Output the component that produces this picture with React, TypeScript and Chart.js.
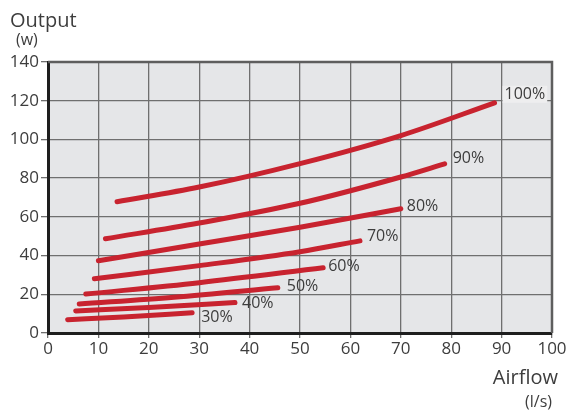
import { useEffect, useRef } from "react";
import { Chart, registerables } from "chart.js";

Chart.register(...registerables);

const FONT = "'Open Sans', 'DejaVu Sans', sans-serif";
const RED = "#c8232f";
const TEXT = "#3d3d3d";
const GRID = "#6f6f6f";

const xTicks = [0, 10, 20, 30, 40, 50, 60, 70, 80, 90, 100];
const yTicks = [0, 20, 40, 60, 80, 100, 120, 140];

const seriesLabels = ["30%", "40%", "50%", "60%", "70%", "80%", "90%", "100%"];

const airflow30 = [3.9, 15, 28.6];
const output30 = [6.9, 8.3, 10.5];
const airflow40 = [5.5, 20, 37.1];
const output40 = [11.4, 13.2, 15.7];
const airflow50 = [6.2, 25, 45.6];
const output50 = [15.0, 18.5, 23.4];
const airflow60 = [7.5, 30, 54.6];
const output60 = [20.1, 26.0, 33.7];
const airflow70 = [9.2, 30, 50, 61.9];
const output70 = [28.0, 34.8, 42.0, 47.6];
const airflow80 = [10.0, 30, 50, 70.0];
const output80 = [37.3, 46.0, 54.6, 64.2];
const airflow90 = [11.4, 30, 50, 70, 78.7];
const output90 = [48.7, 56.8, 67.0, 80.6, 87.4];
const airflow100 = [13.7, 30, 50, 70, 88.6];
const output100 = [67.8, 75.4, 87.5, 102.0, 118.9];

const airflows = [airflow30, airflow40, airflow50, airflow60, airflow70, airflow80, airflow90, airflow100];
const outputs = [output30, output40, output50, output60, output70, output80, output90, output100];

// label offsets from line end (px) – styling only
const labelDx = [9, 7, 9, 5, 7, 6, 8, 10];
const labelDy = [5, 1, -1, -1, -4, -2, -5, -8];

const decorPlugin = {
  id: "decor",
  beforeDraw(chart: any) {
    const { ctx, chartArea } = chart;
    const { left, top, right, bottom } = chartArea;
    ctx.save();
    ctx.fillStyle = "#e5e6e8";
    ctx.fillRect(left, top, right - left, bottom - top);
    ctx.restore();
  },
  beforeDatasetsDraw(chart: any) {
    const { ctx, chartArea } = chart;
    const { left, top, right, bottom } = chartArea;
    ctx.save();
    ctx.strokeStyle = "#5e5e5e";
    ctx.lineWidth = 2.5;
    ctx.beginPath();
    ctx.moveTo(left, top);
    ctx.lineTo(right, top);
    ctx.lineTo(right, bottom);
    ctx.stroke();
    ctx.restore();
  },
  afterDatasetsDraw(chart: any) {
    const { ctx } = chart;
    const xs = chart.scales.x;
    const ys = chart.scales.y;
    ctx.save();
    ctx.font = `16px ${FONT}`;
    ctx.textBaseline = "middle";
    ctx.textAlign = "left";
    seriesLabels.forEach((lab, i) => {
      const ax = airflows[i];
      const oy = outputs[i];
      const px = xs.getPixelForValue(ax[ax.length - 1]) + labelDx[i];
      const py = ys.getPixelForValue(oy[oy.length - 1]) + labelDy[i];
      if (i === seriesLabels.length - 1) {
        const w = ctx.measureText(lab).width;
        ctx.fillStyle = "#eeeeef";
        ctx.fillRect(px - 2, py - 9, w + 4, 17);
      }
      ctx.fillStyle = TEXT;
      ctx.fillText(lab, px, py);
    });
    ctx.restore();
  },
  afterDraw(chart: any) {
    const { ctx } = chart;
    ctx.save();
    ctx.fillStyle = TEXT;
    ctx.textBaseline = "middle";
    ctx.textAlign = "left";
    ctx.font = `20px ${FONT}`;
    ctx.fillText("Output", 10, 21);
    ctx.font = `16px ${FONT}`;
    ctx.fillText("(w)", 16, 40);
    ctx.textAlign = "right";
    ctx.font = `20px ${FONT}`;
    ctx.fillText("Airflow", 558, 378);
    ctx.font = `16px ${FONT}`;
    ctx.fillText("(l/s)", 552, 402);
    ctx.restore();
  },
};

export default function App() {
  const ref = useRef<HTMLCanvasElement | null>(null);

  useEffect(() => {
    if (!ref.current) return;
    const datasets = seriesLabels.map((lab, i) => ({
      label: lab,
      data: airflows[i].map((x, j) => ({ x, y: outputs[i][j] })),
      borderColor: RED,
      backgroundColor: RED,
      borderWidth: 5,
      borderCapStyle: "round" as const,
      pointRadius: 0,
      pointHoverRadius: 0,
      showLine: true,
      cubicInterpolationMode: "monotone" as const,
      fill: false,
    }));

    const chart = new Chart(ref.current, {
      type: "scatter",
      data: { datasets },
      options: {
        responsive: false,
        animation: false,
        events: [],
        layout: { padding: { top: 62, right: 23, left: 0, bottom: 0 } },
        plugins: {
          legend: { display: false },
          tooltip: { enabled: false },
          title: { display: false },
        },
        scales: {
          x: {
            type: "linear",
            min: 0,
            max: 100,
            afterFit: (s: any) => {
              s.height = 82;
            },
            afterBuildTicks: (s: any) => {
              s.ticks = xTicks.map((v) => ({ value: v }));
            },
            grid: { color: GRID, lineWidth: 1.3, tickLength: 5, drawTicks: true },
            border: { color: "#1e1e1e", width: 3 },
            ticks: {
              color: TEXT,
              font: { family: FONT, size: 17 },
              padding: 1,
              maxRotation: 0,
              autoSkip: false,
            },
          },
          y: {
            type: "linear",
            min: 0,
            max: 140,
            afterFit: (s: any) => {
              s.width = 48;
            },
            afterBuildTicks: (s: any) => {
              s.ticks = yTicks.map((v) => ({ value: v }));
            },
            grid: { color: GRID, lineWidth: 1.3, tickLength: 7, drawTicks: true },
            border: { color: "#1e1e1e", width: 3 },
            ticks: {
              color: TEXT,
              font: { family: FONT, size: 17 },
              padding: 2,
              autoSkip: false,
            },
          },
        },
      },
      plugins: [decorPlugin],
    });
    return () => chart.destroy();
  }, []);

  return (
    <div style={{ position: "fixed", left: 0, top: 0, width: 575, height: 415, background: "#fff" }}>
      <canvas ref={ref} width={575} height={415} style={{ display: "block" }} />
    </div>
  );
}
